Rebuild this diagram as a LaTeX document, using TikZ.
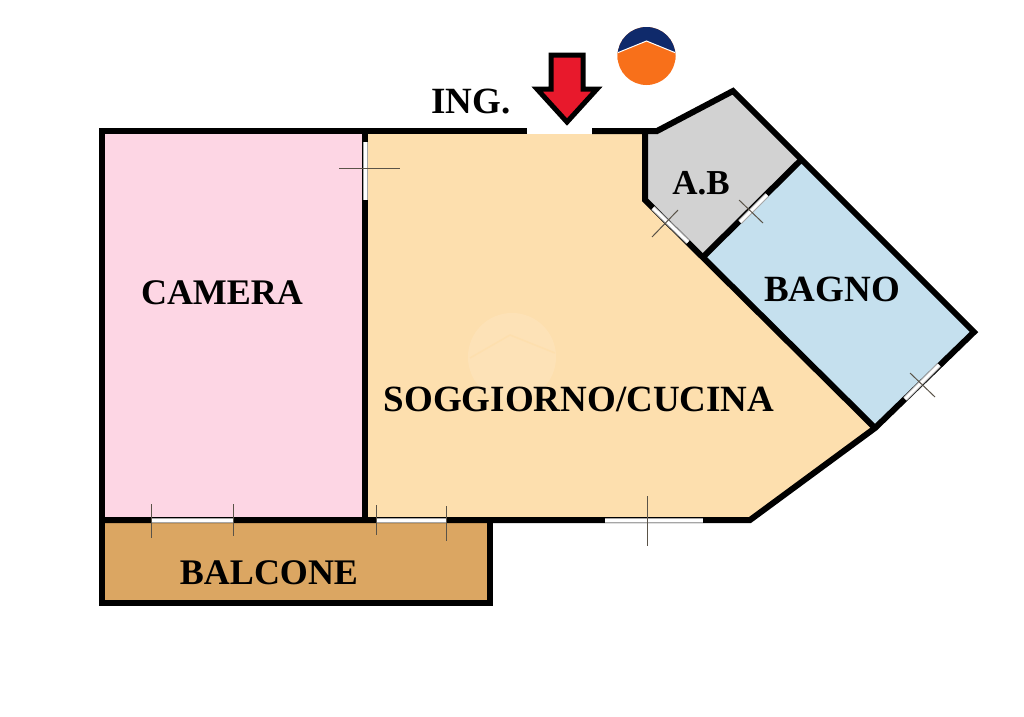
\documentclass[tikz,border=0pt]{standalone}
\usepackage{fontspec}
\setmainfont{Liberation Serif}
\definecolor{cameracol}{HTML}{FDD6E4}
\definecolor{soggiornocol}{HTML}{FDDFAE}
\definecolor{abcol}{HTML}{D2D2D2}
\definecolor{bagnocol}{HTML}{C5E0EE}
\definecolor{balconecol}{HTML}{DBA662}
\definecolor{arrowcol}{HTML}{E8192C}
\definecolor{logoblue}{HTML}{0F2A6B}
\definecolor{logoorange}{HTML}{F8701A}
\definecolor{tickcol}{HTML}{5A5348}
\tikzset{
    wall/.style={draw=black, line width=6pt, line join=miter},
    opening/.style={draw=gray!70, line width=5pt, postaction={draw=white, line width=3pt}},
    tick/.style={draw=tickcol, line width=1pt},
    roomlabel/.style={font=\fontsize{#1}{#1}\selectfont\bfseries, text=black, inner sep=0pt}
}
\begin{document}
\begin{tikzpicture}[x=1pt, y=-1pt]
    \useasboundingbox (0,0) rectangle (1024,716);
    % corners
    \coordinate (NW) at (102,131);
    \coordinate (SW) at (102,520);
    \coordinate (TC) at (365,131);
    \coordinate (BC) at (365,520);
    \coordinate (AB0) at (645,131);
    \coordinate (AB1) at (645,200);
    \coordinate (AB2) at (657,131);
    \coordinate (AB3) at (733,91);
    \coordinate (PA) at (800,161);
    \coordinate (PB) at (703,257);
    \coordinate (EA) at (974,332);
    \coordinate (EB) at (875,428);
    \coordinate (SE) at (750,520);
    \coordinate (BA) at (102,603);
    \coordinate (BB) at (490,603);
    \coordinate (BD) at (490,520);
    % floors
    \fill [cameracol] (NW) -- (TC) -- (BC) -- (SW) -- cycle;
    \fill [soggiornocol] (365,134) -- (645,134) -- (AB1) -- (EB) -- (SE) -- (BC) -- cycle;
    \fill [abcol] (AB0) -- (AB2) -- (AB3) -- (PA) -- (PB) -- (AB1) -- cycle;
    \fill [bagnocol] (PA) -- (EA) -- (EB) -- (PB) -- cycle;
    \fill [balconecol] (SW) -- (BD) -- (BB) -- (BA) -- cycle;
    % watermark
    \fill [white, opacity=0.12] (512,357) circle (44);
    \draw [soggiornocol, line width=1.5pt] (470,358) -- (510,335) -- (555,353);
    % walls
    \draw [wall] (527,131) -- (NW) -- (BA) -- (BB) -- (BD);
    \draw [wall] (592,131) -- (AB2) -- (AB3) -- (EA) -- (EB) -- (SE) -- (SW);
    \draw [wall] (TC) -- (BC);
    \draw [wall] (AB0) -- (AB1) -- (EB);
    \draw [wall] (PA) -- (PB);
    % openings
    \draw [opening] (365,142) -- (365,200);
    \draw [opening] (653,208) -- (688,242);
    \draw [opening] (740,222) -- (767,195);
    \draw [opening] (905,399) -- (939,365);
    \draw [opening] (605,520) -- (703,520);
    \draw [opening] (151,520) -- (233,520);
    \draw [opening] (376,520) -- (446,520);
    \draw [tick] (339,168) -- (400,168);
    \draw [tick] (652,237) -- (678,210);
    \draw [tick] (739,200) -- (763,223);
    \draw [tick] (910,373) -- (935,397);
    \draw [tick] (647,496) -- (647,546);
    \draw [tick] (151,504) -- (151,538);
    \draw [tick] (233,504) -- (233,536);
    \draw [tick] (376,505) -- (376,535);
    \draw [tick] (446,506) -- (446,541);
    % entrance arrow
    \draw [fill=arrowcol, line width=5pt, line join=miter] (551,55) -- (583,55) -- (583,89) -- (597,89)
        -- (567,122) -- (537,89) -- (551,89) -- cycle;
    % logo
    \fill [logoorange] (646.5,56) circle (29);
    \begin{scope}
        \clip (646.5,56) circle (29);
        \fill [logoblue] (610,20) rectangle (683,53) (610,53) -- (683,53) -- (646.5,40) -- cycle;
        \fill [logoorange] (610,56) -- (646.5,41) -- (683,56) -- (683,60) -- (610,60) -- cycle;
        \draw [white, line width=1pt] (617,53) -- (646.5,41) -- (676,53);
    \end{scope}
    % labels
    \node [roomlabel=36] (camera) at (222,293) {CAMERA};
    \node [roomlabel=37] (soggiorno) at (579,399) {SOGGIORNO/CUCINA};
    \node [roomlabel=37] (bagno) at (832,289) {BAGNO};
    \node [roomlabel=36] (balcone) at (269,573) {BALCONE};
    \node [roomlabel=35] (ab) at (701,183) {A.B};
    \node [roomlabel=37] (ing) at (471,102) {ING.};
\end{tikzpicture}
\end{document}
